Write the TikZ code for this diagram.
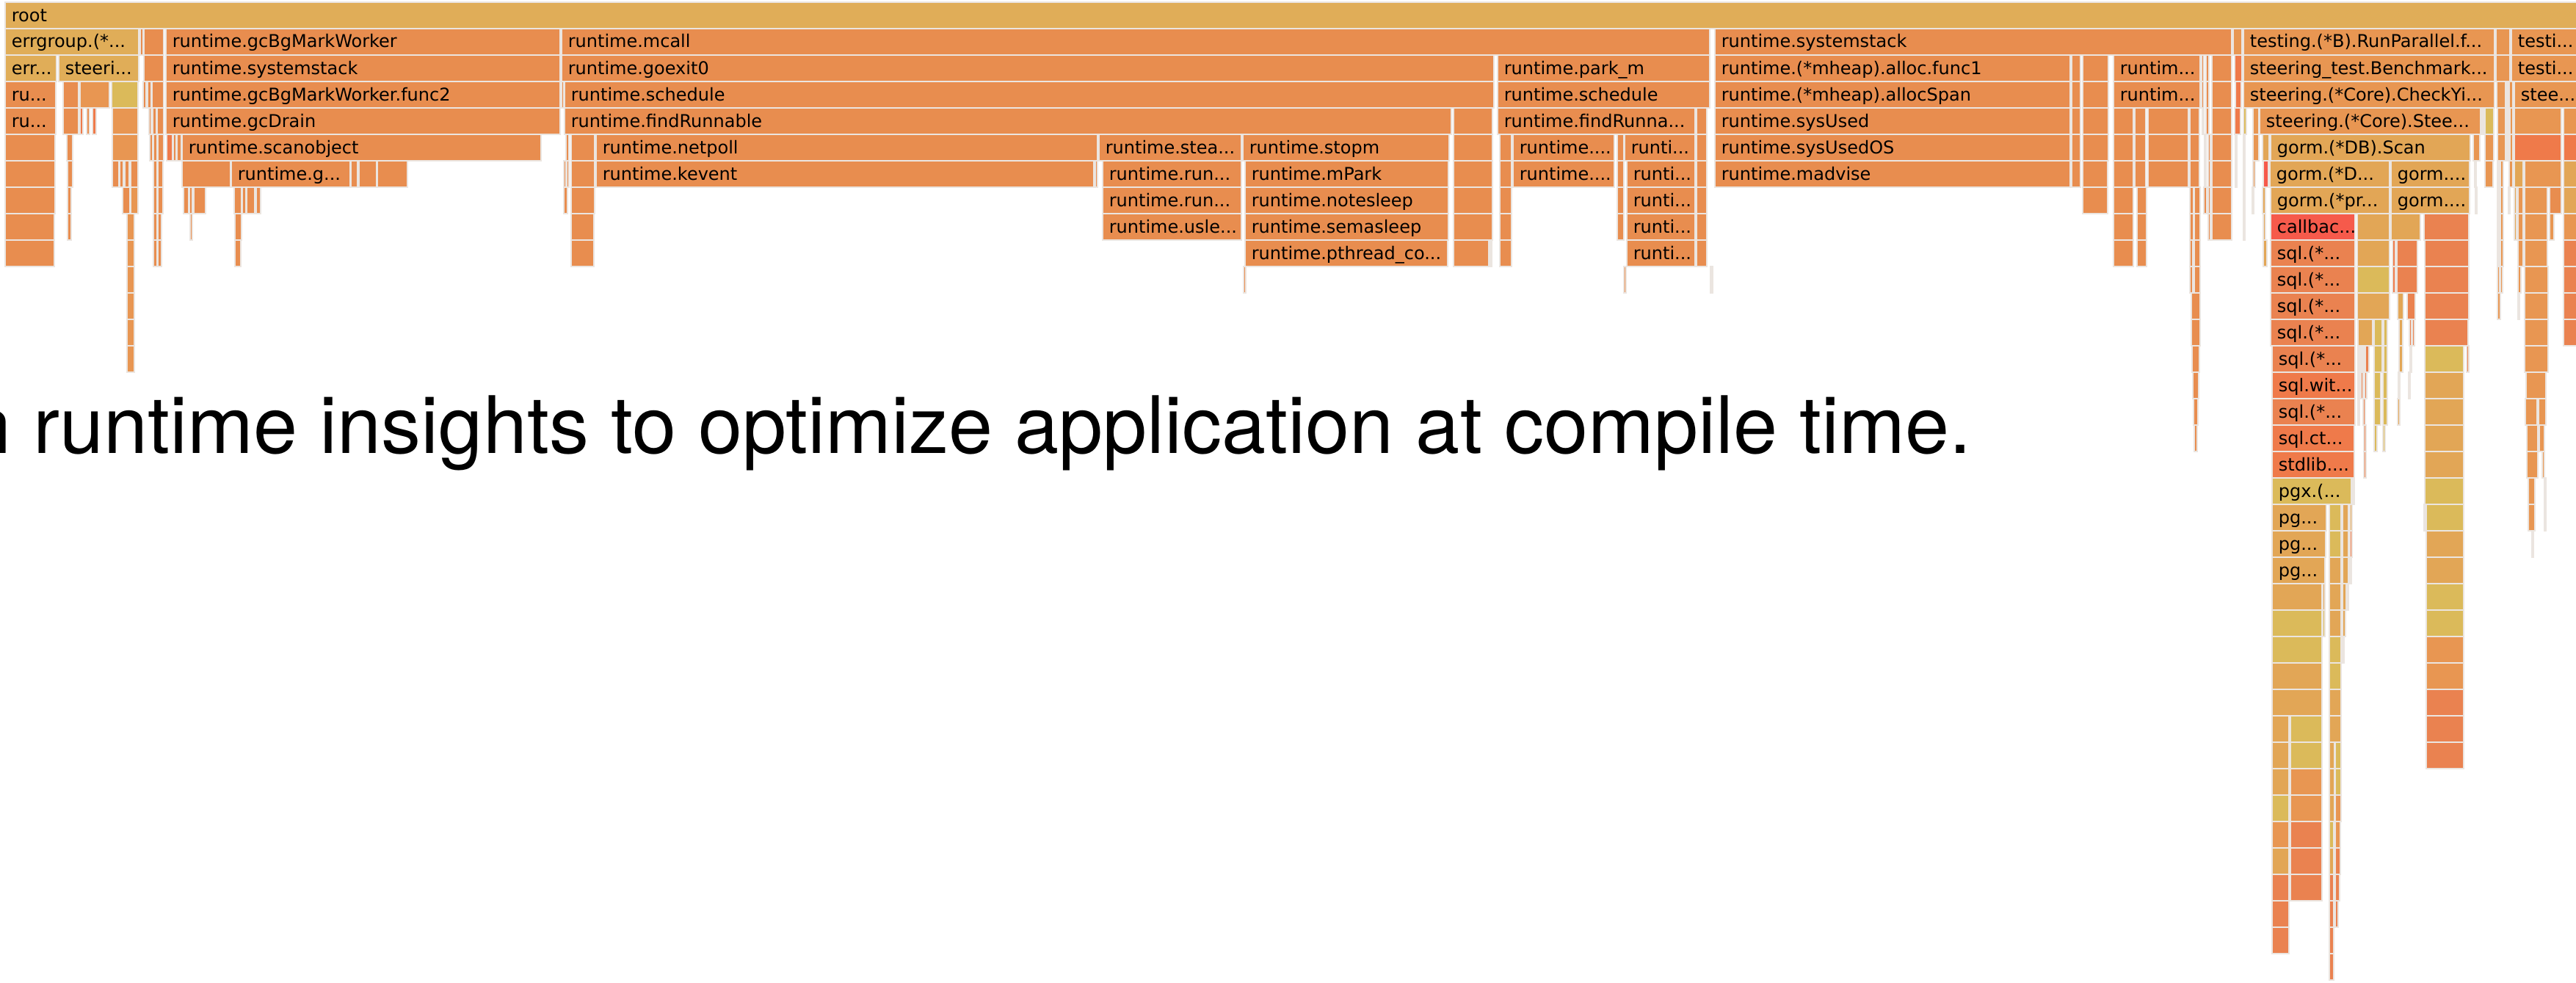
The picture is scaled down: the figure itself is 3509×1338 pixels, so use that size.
\documentclass[tikz,border=0pt]{standalone}
\usepackage{fontspec}
\setmainfont{DejaVu Sans}
\newfontfamily\headfont{TeX Gyre Heros}

% flame graph palette
\definecolor{cR}{HTML}{E0AD58}
\definecolor{cO}{HTML}{E88D4F}
\definecolor{cL}{HTML}{E89652}
\definecolor{cG}{HTML}{E2A656}
\definecolor{cY}{HTML}{DBBA5A}
\definecolor{cRed}{HTML}{F65A4B}
\definecolor{cRO}{HTML}{EF7A4A}
\definecolor{cOR}{HTML}{EA8250}
\definecolor{gapc}{HTML}{EBE5E0}

\tikzset{
  fgcell/.style={draw=gapc, line width=0.55pt},
  fglabel/.style={anchor=base west, inner sep=0pt, font=\fontsize{6}{7}\selectfont, text=black},
  headline/.style={anchor=base west, inner sep=0pt, font=\headfont\fontsize{27}{32}\selectfont, text=black}
}

% one frame of the flame graph: row, left x, right x, colour
\newcommand\fgb[4]{\filldraw[fgcell,fill=#4] (#2,{3+36*#1}) rectangle (#3,{39+36*#1});}
% a frame with its function name
\newcommand\fgl[5]{\fgb{#1}{#2}{#3}{#4}\node[fglabel] (fg#1x#2) at ({#2+8},{29+36*#1}) {#5};}

\begin{document}
\begin{tikzpicture}[x=0.25pt,y=-0.25pt]
\useasboundingbox (0,0) rectangle (3509,1338);
\clip (0,0) rectangle (3509,1338);
\fill[white] (0,0) rectangle (3509,1338);

% ---- row 0
\fgl{0}{7}{3515}{cR}{root}

% ---- row 1
\fgl{1}{7}{189}{cR}{errgroup.(*...}
\fgb{1}{191}{195}{cO}\fgb{1}{196}{223}{cO}
\fgl{1}{226}{763}{cO}{runtime.gcBgMarkWorker}
\fgl{1}{765}{2329}{cO}{runtime.mcall}
\fgl{1}{2336}{3040}{cO}{runtime.systemstack}
\fgb{1}{3042}{3054}{cL}
\fgl{1}{3056}{3398}{cL}{testing.(*B).RunParallel.f...}
\fgb{1}{3400}{3419}{cL}
\fgl{1}{3421}{3515}{cL}{testi...}

% ---- row 2
\fgl{2}{7}{77}{cR}{err...}
\fgl{2}{80}{189}{cR}{steeri...}
\fgb{2}{196}{223}{cO}
\fgl{2}{226}{763}{cO}{runtime.systemstack}
\fgl{2}{765}{2035}{cO}{runtime.goexit0}
\fgl{2}{2040}{2329}{cO}{runtime.park\_m}
\fgl{2}{2336}{2820}{cO}{runtime.(*mheap).alloc.func1}
\fgb{2}{2822}{2834}{cO}\fgb{2}{2837}{2872}{cO}
\fgl{2}{2879}{2997}{cO}{runtim...}
\fgb{2}{2999}{3002}{cO}\fgb{2}{3005}{3009}{cO}\fgb{2}{3013}{3040}{cO}
\fgb{2}{3044}{3054}{cRO}
\fgl{2}{3056}{3398}{cL}{steering\_test.Benchmark...}
\fgb{2}{3400}{3419}{cL}
\fgl{2}{3421}{3515}{cL}{testi...}

% ---- row 3
\fgl{3}{7}{76}{cO}{ru...}
\fgb{3}{86}{107}{cO}\fgb{3}{109}{149}{cL}\fgb{3}{152}{188}{cY}
\fgb{3}{195}{199}{cO}\fgb{3}{201}{206}{cO}\fgb{3}{207}{223}{cO}
\fgl{3}{226}{763}{cO}{runtime.gcBgMarkWorker.func2}
\fgb{3}{765}{768}{cO}
\fgl{3}{769}{2035}{cO}{runtime.schedule}
\fgl{3}{2040}{2329}{cO}{runtime.schedule}
\fgl{3}{2336}{2820}{cO}{runtime.(*mheap).allocSpan}
\fgb{3}{2822}{2834}{cO}\fgb{3}{2837}{2872}{cO}
\fgl{3}{2879}{2997}{cO}{runtim...}
\fgb{3}{2999}{3002}{cO}\fgb{3}{3005}{3009}{cO}\fgb{3}{3013}{3040}{cO}
\fgb{3}{3045}{3053}{cRO}
\fgl{3}{3056}{3398}{cL}{steering.(*Core).CheckYi...}
\fgb{3}{3401}{3413}{cL}\fgb{3}{3414}{3416}{cL}\fgb{3}{3418}{3423}{cL}
\fgl{3}{3425}{3515}{cL}{stee...}

% ---- row 4
\fgl{4}{7}{76}{cO}{ru...}
\fgb{4}{86}{107}{cO}\fgb{4}{109}{113}{cRO}\fgb{4}{118}{122}{cO}\fgb{4}{126}{131}{cRO}
\fgb{4}{153}{188}{cL}
\fgb{4}{203}{206}{cO}\fgb{4}{208}{213}{cO}\fgb{4}{214}{223}{cO}
\fgl{4}{226}{763}{cO}{runtime.gcDrain}
\fgl{4}{769}{1977}{cO}{runtime.findRunnable}
\fgb{4}{1980}{2033}{cO}
\fgl{4}{2040}{2309}{cO}{runtime.findRunna...}
\fgb{4}{2311}{2325}{cO}
\fgl{4}{2336}{2820}{cO}{runtime.sysUsed}
\fgb{4}{2822}{2834}{cO}\fgb{4}{2837}{2872}{cO}\fgb{4}{2879}{2906}{cO}\fgb{4}{2908}{2923}{cO}
\fgb{4}{2926}{2981}{cO}\fgb{4}{2983}{2996}{cO}\fgb{4}{3000}{3002}{cO}\fgb{4}{3005}{3009}{cO}\fgb{4}{3013}{3040}{cO}
\fgb{4}{3044}{3052}{cRO}\fgb{4}{3056}{3060}{cY}\fgb{4}{3069}{3077}{cL}
\fgl{4}{3078}{3379}{cL}{steering.(*Core).Stee...}
\fgb{4}{3381}{3383}{cL}\fgb{4}{3385}{3397}{cY}
\fgb{4}{3402}{3413}{cL}\fgb{4}{3415}{3417}{cL}\fgb{4}{3419}{3423}{cL}
\fgb{4}{3425}{3489}{cL}\fgb{4}{3492}{3515}{cL}

% ---- row 5
\fgb{5}{7}{75}{cO}\fgb{5}{91}{99}{cO}\fgb{5}{153}{188}{cL}
\fgb{5}{204}{208}{cO}\fgb{5}{209}{214}{cO}\fgb{5}{215}{223}{cO}
\fgb{5}{227}{235}{cRO}\fgb{5}{236}{240}{cO}\fgb{5}{241}{247}{cO}
\fgl{5}{248}{737}{cO}{runtime.scanobject}
\fgb{5}{771}{775}{cO}\fgb{5}{778}{810}{cO}
\fgl{5}{812}{1495}{cO}{runtime.netpoll}
\fgl{5}{1497}{1691}{cO}{runtime.stea...}
\fgl{5}{1693}{1974}{cO}{runtime.stopm}
\fgb{5}{1980}{2033}{cO}\fgb{5}{2043}{2059}{cO}
\fgl{5}{2061}{2199}{cO}{runtime....}
\fgb{5}{2203}{2212}{cO}
\fgl{5}{2213}{2309}{cO}{runti...}
\fgb{5}{2311}{2325}{cO}
\fgl{5}{2336}{2820}{cO}{runtime.sysUsedOS}
\fgb{5}{2822}{2834}{cO}\fgb{5}{2837}{2872}{cO}\fgb{5}{2879}{2906}{cO}\fgb{5}{2908}{2923}{cO}
\fgb{5}{2926}{2981}{cO}\fgb{5}{2983}{2996}{cO}\fgb{5}{3003}{3005}{cO}\fgb{5}{3008}{3011}{cO}\fgb{5}{3013}{3040}{cO}
\fgb{5}{3045}{3047}{cO}\fgb{5}{3056}{3058}{cY}\fgb{5}{3069}{3077}{cL}
\fgb{5}{3082}{3091}{cG}
\fgl{5}{3093}{3365}{cG}{gorm.(*DB).Scan}
\fgb{5}{3369}{3378}{cL}\fgb{5}{3385}{3397}{cL}
\fgb{5}{3402}{3413}{cL}\fgb{5}{3415}{3417}{cY}\fgb{5}{3419}{3423}{cL}
\fgb{5}{3425}{3489}{cRO}\fgb{5}{3492}{3515}{cRO}

% ---- row 6
\fgb{6}{7}{75}{cO}\fgb{6}{92}{99}{cO}
\fgb{6}{153}{162}{cO}\fgb{6}{163}{168}{cO}\fgb{6}{170}{176}{cO}\fgb{6}{178}{188}{cO}
\fgb{6}{209}{214}{cO}\fgb{6}{215}{222}{cO}
\fgb{6}{248}{314}{cO}
\fgl{6}{315}{477}{cO}{runtime.g...}
\fgb{6}{478}{487}{cO}\fgb{6}{489}{513}{cO}\fgb{6}{514}{555}{cO}
\fgb{6}{768}{771}{cO}\fgb{6}{772}{775}{cO}\fgb{6}{778}{810}{cO}
\fgl{6}{812}{1490}{cO}{runtime.kevent}
\fgb{6}{1492}{1495}{cO}
\fgl{6}{1502}{1691}{cO}{runtime.run...}
\fgl{6}{1696}{1973}{cO}{runtime.mPark}
\fgb{6}{1980}{2033}{cO}\fgb{6}{2043}{2059}{cO}
\fgl{6}{2061}{2199}{cO}{runtime....}
\fgb{6}{2203}{2212}{cO}
\fgl{6}{2216}{2309}{cO}{runti...}
\fgb{6}{2311}{2325}{cO}
\fgl{6}{2336}{2820}{cO}{runtime.madvise}
\fgb{6}{2822}{2834}{cO}\fgb{6}{2837}{2871}{cO}\fgb{6}{2879}{2906}{cO}\fgb{6}{2908}{2923}{cO}
\fgb{6}{2926}{2981}{cO}\fgb{6}{2983}{2996}{cO}\fgb{6}{3003}{3005}{cO}\fgb{6}{3008}{3011}{cO}\fgb{6}{3013}{3040}{cO}
\fgb{6}{3045}{3047}{cO}\fgb{6}{3056}{3058}{cY}\fgb{6}{3069}{3072}{cL}
\fgb{6}{3083}{3090}{cRed}
\fgl{6}{3092}{3255}{cG}{gorm.(*D...}
\fgl{6}{3257}{3364}{cG}{gorm....}
\fgb{6}{3371}{3373}{cL}\fgb{6}{3385}{3396}{cL}
\fgb{6}{3402}{3404}{cL}\fgb{6}{3406}{3410}{cL}\fgb{6}{3418}{3423}{cL}
\fgb{6}{3425}{3437}{cG}\fgb{6}{3439}{3489}{cL}\fgb{6}{3492}{3515}{cG}

% ---- row 7
\fgb{7}{7}{75}{cO}\fgb{7}{92}{97}{cO}
\fgb{7}{167}{177}{cO}\fgb{7}{178}{188}{cL}
\fgb{7}{209}{214}{cO}\fgb{7}{215}{222}{cO}
\fgb{7}{250}{257}{cO}\fgb{7}{258}{262}{cO}\fgb{7}{264}{280}{cO}
\fgb{7}{319}{329}{cO}\fgb{7}{330}{335}{cO}\fgb{7}{336}{347}{cO}\fgb{7}{349}{355}{cO}
\fgb{7}{768}{773}{cO}\fgb{7}{778}{810}{cO}
\fgl{7}{1502}{1691}{cO}{runtime.run...}
\fgl{7}{1696}{1973}{cO}{runtime.notesleep}
\fgb{7}{1980}{2033}{cO}\fgb{7}{2043}{2059}{cO}\fgb{7}{2203}{2212}{cO}
\fgl{7}{2216}{2309}{cO}{runti...}
\fgb{7}{2311}{2325}{cO}
\fgb{7}{2837}{2871}{cO}\fgb{7}{2879}{2906}{cO}\fgb{7}{2911}{2924}{cO}
\fgb{7}{2983}{2988}{cO}\fgb{7}{2989}{2997}{cO}\fgb{7}{3002}{3006}{cO}\fgb{7}{3008}{3011}{cO}\fgb{7}{3013}{3040}{cO}
\fgb{7}{3056}{3058}{cY}\fgb{7}{3068}{3070}{cL}\fgb{7}{3082}{3086}{cG}
\fgl{7}{3093}{3255}{cG}{gorm.(*pr...}
\fgl{7}{3257}{3364}{cG}{gorm....}
\fgb{7}{3372}{3374}{cL}
\fgb{7}{3402}{3404}{cL}\fgb{7}{3406}{3410}{cL}\fgb{7}{3417}{3419}{cL}
\fgb{7}{3425}{3428}{cG}\fgb{7}{3430}{3437}{cL}
\fgb{7}{3439}{3470}{cL}\fgb{7}{3473}{3489}{cO}\fgb{7}{3492}{3515}{cG}

% ---- row 8
\fgb{8}{7}{74}{cO}\fgb{8}{92}{97}{cO}\fgb{8}{173}{183}{cL}
\fgb{8}{209}{214}{cO}\fgb{8}{215}{220}{cO}
\fgb{8}{259}{262}{cO}\fgb{8}{320}{329}{cO}
\fgb{8}{778}{809}{cO}
\fgl{8}{1502}{1691}{cO}{runtime.usle...}
\fgl{8}{1696}{1973}{cO}{runtime.semasleep}
\fgb{8}{1980}{2033}{cO}\fgb{8}{2043}{2059}{cO}\fgb{8}{2203}{2212}{cO}
\fgl{8}{2216}{2309}{cO}{runti...}
\fgb{8}{2311}{2325}{cO}
\fgb{8}{2879}{2906}{cO}\fgb{8}{2911}{2924}{cO}\fgb{8}{2983}{2988}{cO}\fgb{8}{2989}{2997}{cO}
\fgb{8}{3008}{3011}{cO}\fgb{8}{3013}{3040}{cO}
\fgb{8}{3056}{3058}{cY}\fgb{8}{3083}{3086}{cG}
\fgl{8}{3093}{3208}{cRed}{callbac...}
\fgb{8}{3211}{3255}{cG}\fgb{8}{3257}{3297}{cG}\fgb{8}{3302}{3363}{cOR}
\fgb{8}{3402}{3404}{cL}\fgb{8}{3406}{3410}{cL}
\fgb{8}{3425}{3428}{cG}\fgb{8}{3430}{3437}{cL}
\fgb{8}{3439}{3470}{cL}\fgb{8}{3473}{3479}{cL}\fgb{8}{3492}{3515}{cL}

% ---- row 9
\fgb{9}{7}{74}{cO}\fgb{9}{173}{183}{cL}
\fgb{9}{209}{214}{cO}\fgb{9}{215}{220}{cO}\fgb{9}{320}{328}{cO}
\fgb{9}{778}{809}{cO}
\fgl{9}{1696}{1972}{cO}{runtime.pthread\_co...}
\fgb{9}{1980}{2028}{cO}\fgb{9}{2030}{2032}{cO}\fgb{9}{2043}{2059}{cO}
\fgl{9}{2216}{2309}{cO}{runti...}
\fgb{9}{2311}{2325}{cO}
\fgb{9}{2879}{2906}{cO}\fgb{9}{2911}{2924}{cO}\fgb{9}{2983}{2987}{cO}\fgb{9}{2989}{2997}{cO}
\fgb{9}{3083}{3088}{cG}
\fgl{9}{3093}{3208}{cOR}{sql.(*...}
\fgb{9}{3211}{3255}{cG}\fgb{9}{3259}{3263}{cRO}\fgb{9}{3265}{3293}{cOR}\fgb{9}{3303}{3363}{cOR}
\fgb{9}{3402}{3404}{cL}\fgb{9}{3406}{3410}{cL}\fgb{9}{3430}{3437}{cL}
\fgb{9}{3439}{3470}{cL}\fgb{9}{3492}{3515}{cOR}

% ---- row 10
\fgb{10}{173}{183}{cL}\fgb{10}{1694}{1697}{cO}\fgb{10}{2212}{2215}{cO}\fgb{10}{2330}{2333}{gapc}
\fgb{10}{2983}{2987}{cO}\fgb{10}{2989}{2997}{cO}
\fgl{10}{3093}{3208}{cOR}{sql.(*...}
\fgb{10}{3211}{3255}{cY}\fgb{10}{3259}{3263}{cRO}\fgb{10}{3265}{3293}{cOR}\fgb{10}{3303}{3363}{cOR}
\fgb{10}{3402}{3405}{cL}\fgb{10}{3406}{3409}{cL}\fgb{10}{3430}{3434}{cL}
\fgb{10}{3439}{3471}{cL}\fgb{10}{3492}{3515}{cOR}

% ---- row 11
\fgb{11}{173}{183}{cL}\fgb{11}{2985}{2997}{cO}
\fgl{11}{3093}{3208}{cOR}{sql.(*...}
\fgb{11}{3211}{3255}{cG}\fgb{11}{3266}{3274}{cG}\fgb{11}{3279}{3290}{cOR}\fgb{11}{3303}{3363}{cOR}
\fgb{11}{3402}{3406}{cL}\fgb{11}{3430}{3432}{cL}
\fgb{11}{3439}{3471}{cL}\fgb{11}{3492}{3515}{cOR}

% ---- row 12
\fgb{12}{173}{183}{cL}\fgb{12}{2985}{2997}{cO}
\fgl{12}{3093}{3208}{cOR}{sql.(*...}
\fgb{12}{3212}{3232}{cG}\fgb{12}{3234}{3245}{cY}\fgb{12}{3247}{3252}{cY}
\fgb{12}{3268}{3273}{cG}\fgb{12}{3282}{3285}{cOR}\fgb{12}{3286}{3289}{cOR}
\fgb{12}{3303}{3362}{cOR}
\fgb{12}{3439}{3471}{cL}\fgb{12}{3492}{3515}{cOR}

% ---- row 13
\fgb{13}{173}{183}{cL}\fgb{13}{2986}{2996}{cO}
\fgl{13}{3095}{3208}{cOR}{sql.(*...}
\fgb{13}{3212}{3214}{cOR}\fgb{13}{3215}{3217}{cOR}\fgb{13}{3218}{3220}{cOR}\fgb{13}{3222}{3227}{cOR}
\fgb{13}{3234}{3245}{cY}\fgb{13}{3247}{3252}{cY}\fgb{13}{3268}{3273}{cG}\fgb{13}{3283}{3285}{cOR}
\fgb{13}{3303}{3356}{cY}\fgb{13}{3360}{3363}{cOR}
\fgb{13}{3439}{3471}{cL}

% ---- row 14
\fgb{14}{2987}{2995}{cO}
\fgl{14}{3095}{3208}{cRO}{sql.wit...}
\fgb{14}{3212}{3214}{cOR}\fgb{14}{3216}{3219}{cOR}\fgb{14}{3221}{3224}{cOR}
\fgb{14}{3234}{3243}{cY}\fgb{14}{3246}{3252}{cY}\fgb{14}{3267}{3269}{cG}\fgb{14}{3281}{3283}{cOR}
\fgb{14}{3303}{3356}{cG}\fgb{14}{3441}{3468}{cL}

% ---- row 15
\fgb{15}{2988}{2994}{cO}
\fgl{15}{3095}{3208}{cOR}{sql.(*...}
\fgb{15}{3212}{3214}{cOR}\fgb{15}{3219}{3222}{cOR}
\fgb{15}{3234}{3243}{cY}\fgb{15}{3246}{3252}{cY}\fgb{15}{3266}{3269}{cG}
\fgb{15}{3303}{3356}{cG}\fgb{15}{3440}{3456}{cL}\fgb{15}{3458}{3468}{cL}

% ---- row 16
\fgb{16}{2989}{2993}{cO}
\fgl{16}{3095}{3207}{cRO}{sql.ct...}
\fgb{16}{3220}{3223}{cOR}\fgb{16}{3234}{3238}{cY}\fgb{16}{3246}{3249}{cY}
\fgb{16}{3303}{3356}{cG}\fgb{16}{3442}{3457}{cL}\fgb{16}{3459}{3466}{cL}

% ---- row 17
\fgl{17}{3095}{3207}{cRO}{stdlib....}
\fgb{17}{3220}{3223}{cOR}\fgb{17}{3303}{3356}{cG}
\fgb{17}{3442}{3457}{cL}\fgb{17}{3463}{3466}{cL}

% ---- row 18
\fgl{18}{3095}{3203}{cY}{pgx.(...}
\fgb{18}{3205}{3207}{cY}\fgb{18}{3303}{3356}{cY}
\fgb{18}{3444}{3453}{cL}\fgb{18}{3466}{3468}{gapc}

% ---- row 19
\fgl{19}{3095}{3169}{cG}{pg...}
\fgb{19}{3173}{3189}{cY}\fgb{19}{3191}{3199}{cG}\fgb{19}{3201}{3204}{cG}
\fgb{19}{3302}{3304}{gapc}\fgb{19}{3305}{3356}{cY}
\fgb{19}{3444}{3453}{cL}\fgb{19}{3466}{3468}{gapc}

% ---- row 20
\fgl{20}{3095}{3168}{cG}{pg...}
\fgb{20}{3173}{3189}{cY}\fgb{20}{3191}{3199}{cG}\fgb{20}{3201}{3204}{cRO}
\fgb{20}{3305}{3356}{cG}\fgb{20}{3449}{3451}{gapc}

% ---- row 21
\fgl{21}{3095}{3167}{cG}{pg...}
\fgb{21}{3173}{3189}{cG}\fgb{21}{3191}{3199}{cG}\fgb{21}{3201}{3203}{cRO}
\fgb{21}{3305}{3356}{cG}

% ---- rows 22 and below: the deep pgx stacks
\fgb{22}{3095}{3163}{cG}\fgb{22}{3164}{3167}{cG}\fgb{22}{3173}{3189}{cG}\fgb{22}{3191}{3196}{cG}\fgb{22}{3197}{3199}{cG}\fgb{22}{3305}{3356}{cY}
\fgb{23}{3095}{3163}{cY}\fgb{23}{3164}{3167}{cY}\fgb{23}{3173}{3189}{cG}\fgb{23}{3191}{3195}{cG}\fgb{23}{3305}{3356}{cY}
\fgb{24}{3095}{3163}{cY}\fgb{24}{3173}{3189}{cY}\fgb{24}{3191}{3193}{cG}\fgb{24}{3305}{3356}{cL}
\fgb{25}{3095}{3163}{cG}\fgb{25}{3173}{3189}{cY}\fgb{25}{3305}{3356}{cL}
\fgb{26}{3095}{3163}{cG}\fgb{26}{3173}{3189}{cG}\fgb{26}{3305}{3356}{cOR}
\fgb{27}{3095}{3118}{cG}\fgb{27}{3120}{3163}{cY}\fgb{27}{3173}{3189}{cG}\fgb{27}{3305}{3356}{cOR}
\fgb{28}{3095}{3118}{cG}\fgb{28}{3120}{3163}{cY}\fgb{28}{3173}{3180}{cG}\fgb{28}{3181}{3189}{cY}\fgb{28}{3305}{3356}{cOR}
\fgb{29}{3095}{3118}{cG}\fgb{29}{3120}{3163}{cL}\fgb{29}{3173}{3180}{cG}\fgb{29}{3181}{3189}{cY}
\fgb{30}{3095}{3118}{cY}\fgb{30}{3120}{3163}{cL}\fgb{30}{3173}{3180}{cG}\fgb{30}{3181}{3189}{cL}
\fgb{31}{3095}{3118}{cL}\fgb{31}{3120}{3163}{cOR}\fgb{31}{3173}{3179}{cY}\fgb{31}{3181}{3188}{cL}
\fgb{32}{3095}{3118}{cG}\fgb{32}{3120}{3163}{cOR}\fgb{32}{3173}{3179}{cG}\fgb{32}{3181}{3188}{cOR}
\fgb{33}{3095}{3118}{cOR}\fgb{33}{3120}{3163}{cOR}\fgb{33}{3173}{3179}{cOR}\fgb{33}{3181}{3187}{cOR}
\fgb{34}{3095}{3118}{cOR}\fgb{34}{3173}{3179}{cOR}\fgb{34}{3181}{3185}{cOR}
\fgb{35}{3095}{3118}{cOR}\fgb{35}{3173}{3179}{cOR}
\fgb{36}{3173}{3179}{cOR}

% ---- slide text running across the graph
\node[headline] (caption) at (-45,617) {n runtime insights to optimize application at compile time.};
\end{tikzpicture}
\end{document}
